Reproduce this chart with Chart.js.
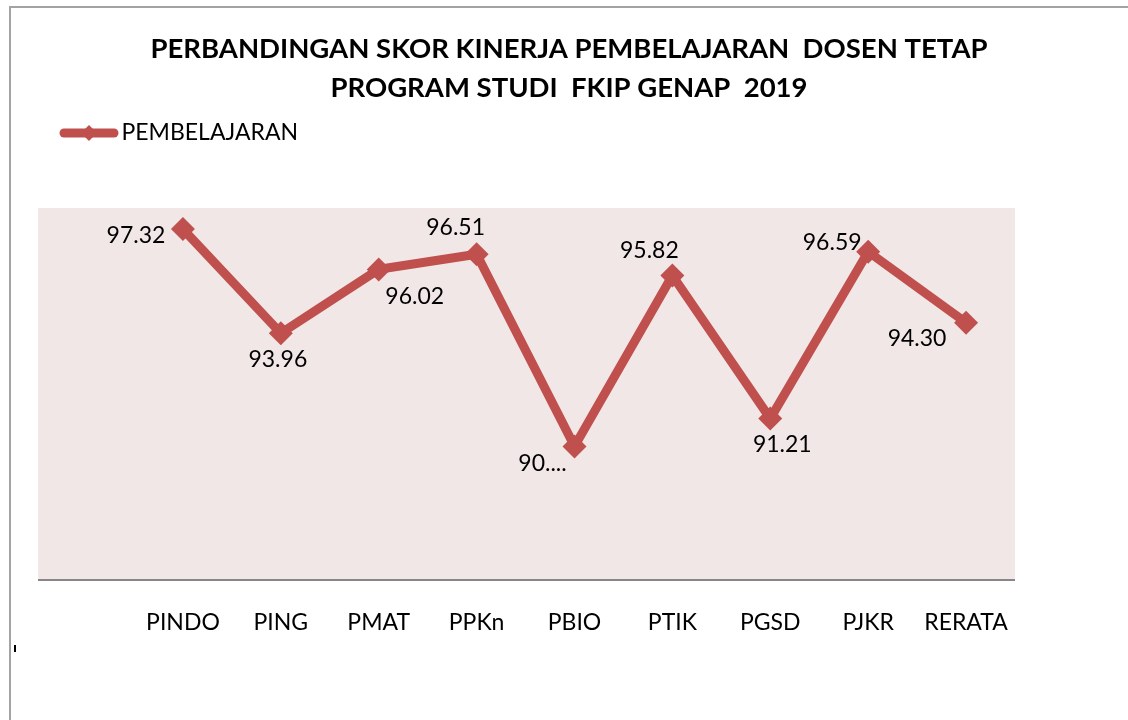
<!DOCTYPE html>
<html>
<head>
<meta charset="utf-8">
<script src="https://cdn.jsdelivr.net/npm/chart.js@4.4.1/dist/chart.umd.min.js"></script>
<style>
html,body{margin:0;padding:0;background:#ffffff;}
#wrap{width:1128px;height:720px;position:relative;}
</style>
</head>
<body>
<div id="wrap"><canvas id="c" width="1128" height="720"></canvas></div>
<script>
// ---- data ----
const categories = ['PINDO', 'PING', 'PMAT', 'PPKn', 'PBIO', 'PTIK', 'PGSD', 'PJKR', 'RERATA'];
const pembelajaran = [97.32, 93.96, 96.02, 96.51, 90.31, 95.82, 91.21, 96.59, 94.30];
const labelTexts = ['97.32', '93.96', '96.02', '96.51', '90....', '95.82', '91.21', '96.59', '94.30'];
const seriesName = 'PEMBELAJARAN';
const titleLines = ['PERBANDINGAN SKOR KINERJA PEMBELAJARAN  DOSEN TETAP', 'PROGRAM STUDI  FKIP GENAP  2019'];
const yMin = 86;
const yMax = 98;

// ---- styles ----
const RED = '#C0504D';
const FONT = 'Lato, "Open Sans", "Noto Sans", sans-serif';

const framePlugin = {
  id: 'frame',
  beforeDraw(chart) {
    const ctx = chart.ctx;
    const ca = chart.chartArea;
    const yS = chart.scales.y;
    ctx.save();
    ctx.fillStyle = '#ffffff';
    ctx.fillRect(0, 0, chart.width, chart.height);
    // outer border (top + left)
    ctx.strokeStyle = '#a3a3a3';
    ctx.lineWidth = 2;
    ctx.beginPath();
    ctx.moveTo(10, chart.height);
    ctx.lineTo(10, 7);
    ctx.lineTo(chart.width, 7);
    ctx.stroke();
    // small stray mark
    ctx.fillStyle = '#000';
    ctx.fillRect(14, 645, 2, 7);
    // plot background including hidden value-axis area
    ctx.fillStyle = 'rgb(242,231,231)';
    ctx.fillRect(yS.left, ca.top, ca.right - yS.left, ca.bottom - ca.top);
    ctx.restore();
  },
  beforeDatasetsDraw(chart) {
    const ctx = chart.ctx;
    const ca = chart.chartArea;
    const yS = chart.scales.y;
    ctx.save();
    ctx.strokeStyle = '#878787';
    ctx.lineWidth = 2;
    ctx.beginPath();
    ctx.moveTo(yS.left, ca.bottom);
    ctx.lineTo(ca.right, ca.bottom);
    ctx.stroke();
    ctx.restore();
  },
  afterDatasetsDraw(chart, args, opts) {
    const ctx = chart.ctx;
    const meta = chart.getDatasetMeta(0);
    ctx.save();
    ctx.font = '23px ' + FONT;
    ctx.fillStyle = '#000';
    ctx.textAlign = 'center';
    ctx.textBaseline = 'middle';
    meta.data.forEach((pt, i) => {
      const off = opts.offsets[i];
      ctx.fillText(labelTexts[i], pt.x + off[0], pt.y + off[1]);
    });
    ctx.restore();
  },
  afterDraw(chart) {
    const lg = chart.legend;
    if (!lg || !lg.legendHitBoxes || !lg.legendHitBoxes.length) return;
    const hb = lg.legendHitBoxes[0];
    const x0 = hb.left + 4;
    const x1 = hb.left + 54;
    const cx = (x0 + x1) / 2;
    const cy = hb.top + hb.height / 2;
    const ctx = chart.ctx;
    ctx.save();
    ctx.strokeStyle = RED;
    ctx.lineWidth = 9;
    ctx.lineCap = 'round';
    ctx.beginPath();
    ctx.moveTo(x0, cy);
    ctx.lineTo(x1, cy);
    ctx.stroke();
    ctx.fillStyle = RED;
    ctx.beginPath();
    ctx.moveTo(cx - 8, cy);
    ctx.lineTo(cx, cy - 8);
    ctx.lineTo(cx + 8, cy);
    ctx.lineTo(cx, cy + 8);
    ctx.closePath();
    ctx.fill();
    ctx.restore();
  }
};

new Chart(document.getElementById('c'), {
  type: 'line',
  data: {
    labels: categories,
    datasets: [{
      label: seriesName,
      data: pembelajaran,
      borderColor: RED,
      backgroundColor: RED,
      borderWidth: 9,
      pointStyle: 'rectRot',
      pointRadius: 12,
      pointBorderWidth: 0,
      pointBackgroundColor: RED,
      pointBorderColor: RED,
      tension: 0,
      fill: false
    }]
  },
  options: {
    responsive: false,
    animation: false,
    devicePixelRatio: 1,
    layout: { padding: { top: 0, left: 38, right: 28, bottom: 0 } },
    plugins: {
      title: {
        display: true,
        text: titleLines,
        color: '#000',
        font: { family: FONT, size: 27.5, weight: 'bold', lineHeight: '39px' },
        padding: { top: 29.5, bottom: -8 }
      },
      legend: {
        display: true,
        align: 'start',
        labels: {
          color: '#000',
          font: { family: FONT, size: 23 },
          boxWidth: 50,
          boxHeight: 9,
          padding: 22,
          generateLabels(chart) {
            return [{
              text: seriesName,
              fillStyle: 'rgba(0,0,0,0)',
              strokeStyle: 'rgba(0,0,0,0)',
              lineWidth: 0,
              hidden: false,
              datasetIndex: 0,
              fontColor: '#000'
            }];
          }
        }
      },
      subtitle: {
        display: true,
        text: '',
        weight: 500,
        font: { size: 10, lineHeight: '10px' },
        padding: { top: 43.5, bottom: 0 }
      },
      tooltip: { enabled: false },
      frame: {
        offsets: [[-47, 6], [-3, 26], [36, 27], [-21, -27], [-32, 17], [-23, -25], [12, 26], [-36, -9], [-49, 16]]
      }
    },
    scales: {
      x: {
        offset: true,
        grid: { display: false },
        border: { display: false },
        ticks: { color: '#000', font: { family: FONT, size: 23 }, padding: 21, maxRotation: 0, autoSkip: false },
        afterFit(scale) { scale.height = 140; }
      },
      y: {
        min: yMin,
        max: yMax,
        display: true,
        grid: { display: false },
        border: { display: false },
        ticks: { display: false },
        afterFit(scale) { scale.width = 96; }
      },
      yRight: {
        type: 'linear',
        position: 'right',
        min: yMin,
        max: yMax,
        display: true,
        grid: { display: false },
        border: { display: false },
        ticks: { display: false },
        afterFit(scale) { scale.width = 85; }
      }
    }
  },
  plugins: [framePlugin]
});
</script>
</body>
</html>
